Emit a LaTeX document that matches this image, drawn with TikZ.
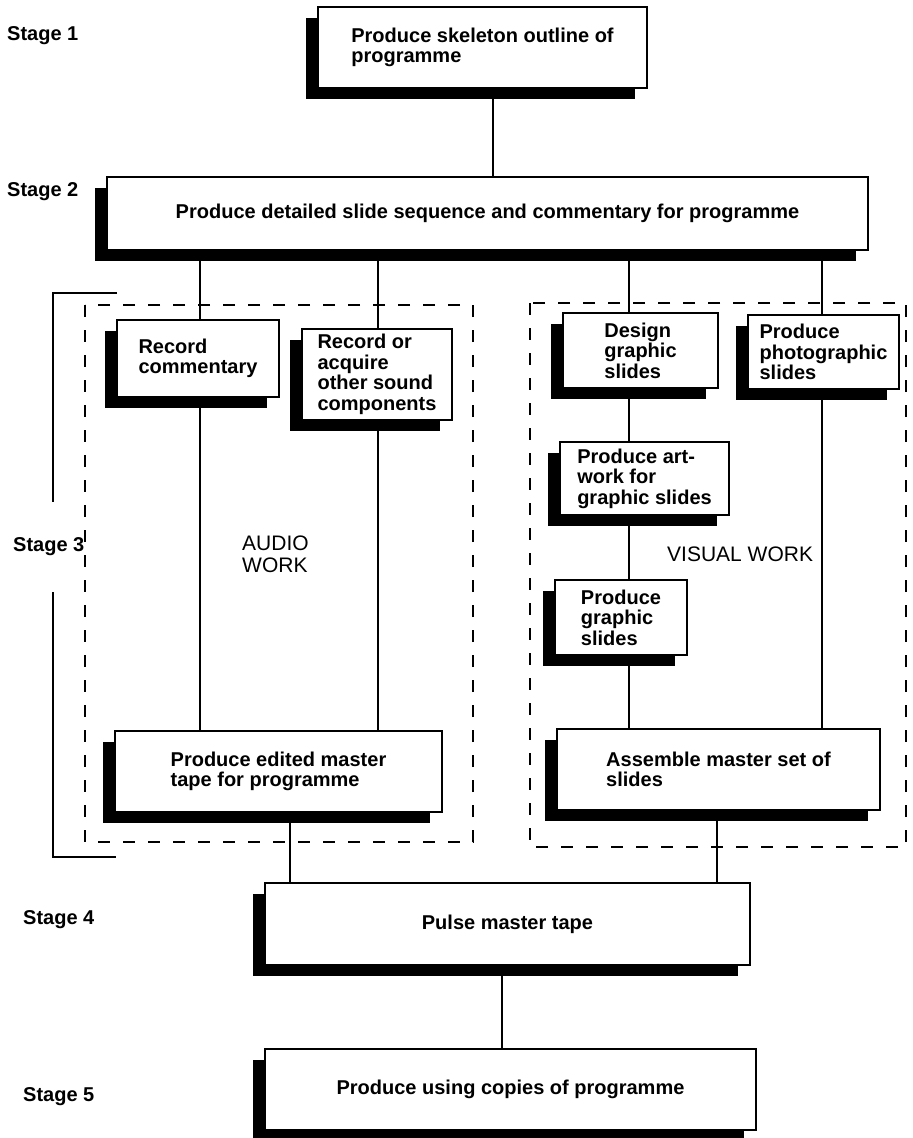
\documentclass[tikz,border=0pt]{standalone}
\usepackage{fontspec}
\setmainfont{Liberation Sans}
\usetikzlibrary{shadows}
\newcommand\bxfont{\bfseries\fontsize{20}{20.5}\selectfont}
\newcommand\lblfont{\fontsize{21}{22}\selectfont}
\begin{document}
\begin{tikzpicture}[x=1pt,y=-1pt,
  box/.style={draw, line width=1.6pt, fill=white, inner sep=0pt, align=left,
    font=\bxfont,
    general shadow={fill=black, shadow xshift=-12pt, shadow yshift=-11pt}},
  link/.style={line width=1.6pt},
  groupbox/.style={line width=2.2pt, dash pattern=on 12pt off 13pt},
  stagelbl/.style={anchor=west, inner sep=0pt, font=\bxfont},
  worklbl/.style={anchor=west, inner sep=0pt, align=left, font=\lblfont}]
\useasboundingbox (0,0) rectangle (913,1138);

% columns used by the vertical connectors
\coordinate (cTop) at (493,0);
\coordinate (cRc) at (200,0);
\coordinate (cRa) at (378,0);
\coordinate (cDg) at (629,0);
\coordinate (cPp) at (822,0);
\coordinate (cEm) at (290,0);
\coordinate (cAm) at (717,0);
\coordinate (cPm) at (502,0);

% stage 3 work areas and bracket (broken around its label)
\draw[groupbox] (85,305) rectangle (473,842);
\draw[groupbox] (530,303) rectangle (906,847);
\draw[link] (117,293) -- (53,293) -- (53,502);
\draw[link] (53,592) -- (53,857) -- (116,857);

% process boxes
\node[box, minimum width=329pt, minimum height=81pt] (s1) at (482.5,47.5)
  {Produce skeleton outline of\\programme};
\node[box, minimum width=761pt, minimum height=73pt] (s2) at (487.5,213.5)
  {Produce detailed slide sequence and commentary for programme};
\node[box, minimum width=162pt, minimum height=77pt] (rc) at (198,358.5)
  {Record\\commentary};
\node[box, minimum width=150pt, minimum height=91pt] (ra) at (377,374.5)
  {Record or\\acquire\\other sound\\components};
\node[box, minimum width=155pt, minimum height=75pt] (dg) at (640.5,350.5)
  {Design\\graphic\\slides};
\node[box, minimum width=151pt, minimum height=74pt] (pp) at (823.5,352)
  {Produce\\photographic\\slides};
\node[box, minimum width=169pt, minimum height=73pt] (aw) at (644.5,478.5)
  {Produce art-\\work for\\graphic slides};
\node[box, minimum width=132pt, minimum height=75pt] (pg) at (621,617.5)
  {Produce\\graphic\\slides};
\node[box, minimum width=327pt, minimum height=81pt] (em) at (278.5,771.5)
  {Produce edited master\\tape for programme};
\node[box, minimum width=323pt, minimum height=81pt] (am) at (718.5,769.5)
  {Assemble master set of\\slides};
\node[box, minimum width=485pt, minimum height=82pt] (pm) at (507.5,924)
  {Pulse master tape};
\node[box, minimum width=491pt, minimum height=81pt] (pc) at (510.5,1089.5)
  {Produce using copies of programme};

% connectors
\draw[link] (s1.south -| cTop) -- (s2.north -| cTop);
\draw[link] (s2.south -| cRc) -- (rc.north -| cRc);
\draw[link] (s2.south -| cRa) -- (ra.north -| cRa);
\draw[link] (s2.south -| cDg) -- (dg.north -| cDg);
\draw[link] (s2.south -| cPp) -- (pp.north -| cPp);
\draw[link] (rc.south -| cRc) -- (em.north -| cRc);
\draw[link] (ra.south -| cRa) -- (em.north -| cRa);
\draw[link] (dg.south -| cDg) -- (aw.north -| cDg);
\draw[link] (aw.south -| cDg) -- (pg.north -| cDg);
\draw[link] (pg.south -| cDg) -- (am.north -| cDg);
\draw[link] (pp.south -| cPp) -- (am.north -| cPp);
\draw[link] (em.south -| cEm) -- (pm.north -| cEm);
\draw[link] (am.south -| cAm) -- (pm.north -| cAm);
\draw[link] (pm.south -| cPm) -- (pc.north -| cPm);

% stage labels
\node[stagelbl] (st1) at (7,36) {Stage 1};
\node[stagelbl] (st2) at (7,192) {Stage 2};
\node[stagelbl] (st3) at (13,547) {Stage 3};
\node[stagelbl] (st4) at (23,920) {Stage 4};
\node[stagelbl] (st5) at (23,1097) {Stage 5};

% work area labels
\node[worklbl] (audio) at (242,554) {AUDIO\\WORK};
\node[worklbl] (visual) at (667,554) {VISUAL WORK};
\end{tikzpicture}
\end{document}
